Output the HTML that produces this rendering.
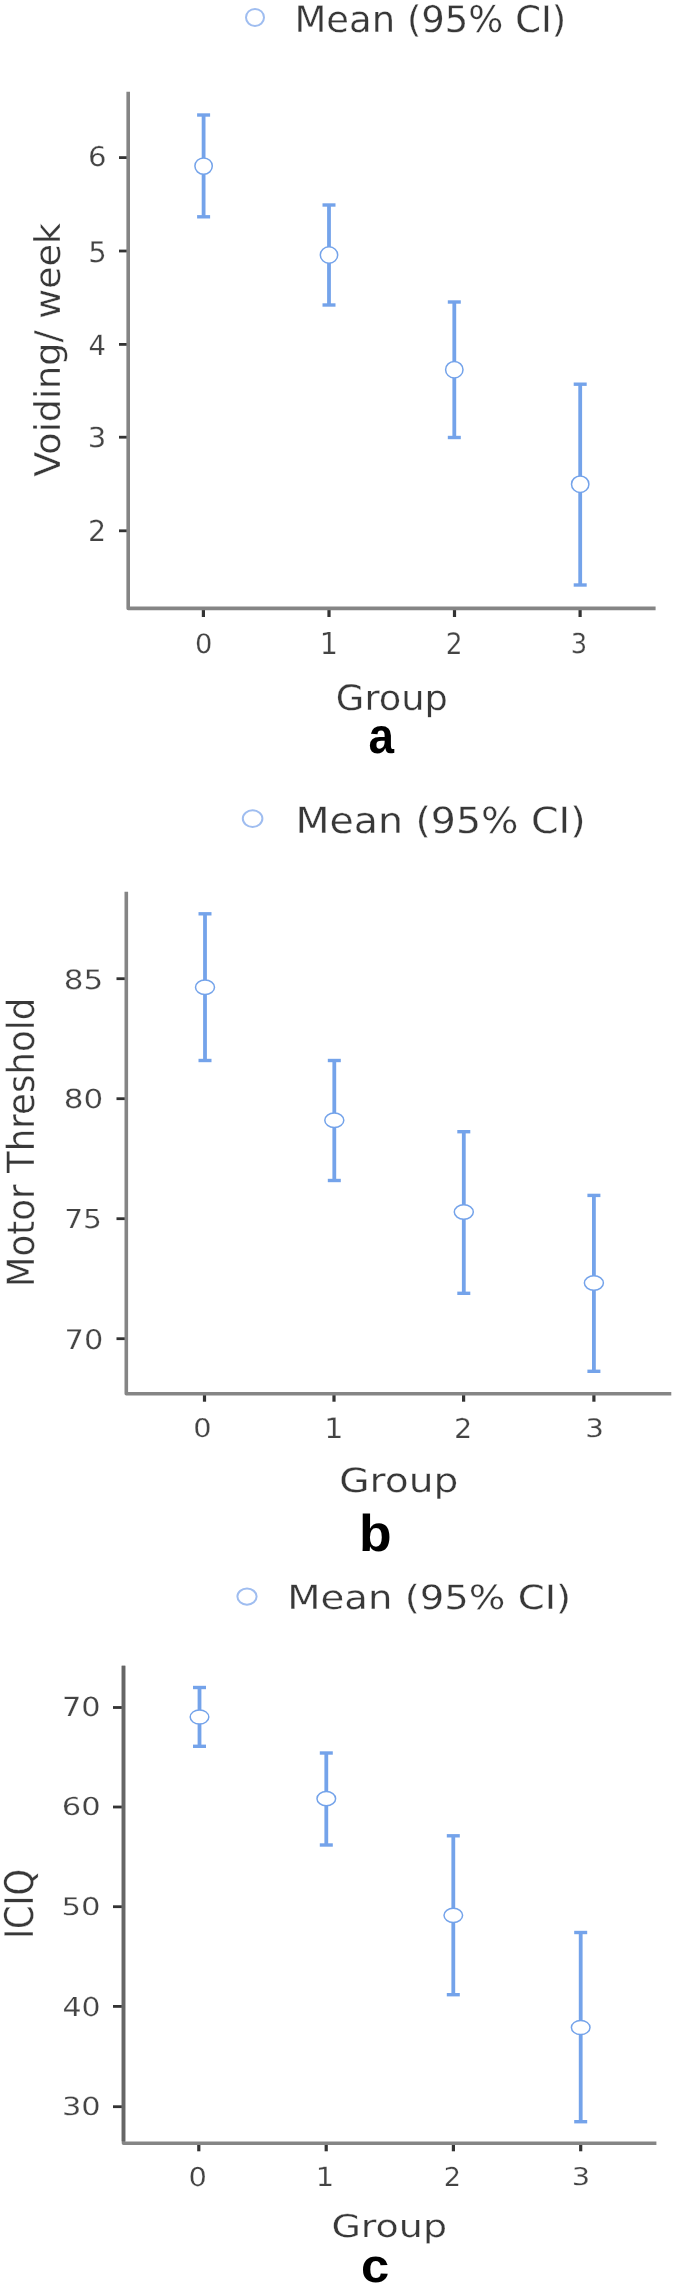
<!DOCTYPE html>
<html><head><meta charset="utf-8"><title>Figure</title>
<style>
html,body{margin:0;padding:0;background:#fff;}
body{width:678px;height:2287px;overflow:hidden;}
svg{display:block;filter:blur(0.75px);text-rendering:geometricPrecision;}
</style></head>
<body>
<svg width="678" height="2287" viewBox="0 0 678 2287">
<rect width="678" height="2287" fill="#fff"/>
<ellipse cx="255" cy="17.4" rx="9.0" ry="8.5" fill="#fff" stroke="#9fbdf0" stroke-width="2"/>
<line x1="119" y1="157.6" x2="128.2" y2="157.6" stroke="#333" stroke-width="2.8" stroke-linecap="butt"/>
<line x1="119" y1="251.0" x2="128.2" y2="251.0" stroke="#333" stroke-width="2.8" stroke-linecap="butt"/>
<line x1="119" y1="344.4" x2="128.2" y2="344.4" stroke="#333" stroke-width="2.8" stroke-linecap="butt"/>
<line x1="119" y1="437.2" x2="128.2" y2="437.2" stroke="#333" stroke-width="2.8" stroke-linecap="butt"/>
<line x1="119" y1="530.8" x2="128.2" y2="530.8" stroke="#333" stroke-width="2.8" stroke-linecap="butt"/>
<line x1="203.4" y1="608.4" x2="203.4" y2="617" stroke="#333" stroke-width="3.2" stroke-linecap="butt"/>
<line x1="329.0" y1="608.4" x2="329.0" y2="617" stroke="#333" stroke-width="3.2" stroke-linecap="butt"/>
<line x1="454.5" y1="608.4" x2="454.5" y2="617" stroke="#333" stroke-width="3.2" stroke-linecap="butt"/>
<line x1="580.1" y1="608.4" x2="580.1" y2="617" stroke="#333" stroke-width="3.2" stroke-linecap="butt"/>
<path d="M128.2,91.7 L128.2,608.4 L655.6,608.4" fill="none" stroke="#858585" stroke-width="3.6" stroke-linejoin="round"/>
<line x1="203.6" y1="115" x2="203.6" y2="216.8" stroke="#74A3EA" stroke-width="3.8" stroke-linecap="butt"/>
<line x1="197.1" y1="115" x2="210.1" y2="115" stroke="#74A3EA" stroke-width="3.4" stroke-linecap="butt"/>
<line x1="197.1" y1="216.8" x2="210.1" y2="216.8" stroke="#74A3EA" stroke-width="3.4" stroke-linecap="butt"/>
<ellipse cx="203.6" cy="166.1" rx="8.7" ry="8.2" fill="#fff" stroke="#74A3EA" stroke-width="1.5"/>
<line x1="329" y1="205" x2="329" y2="305" stroke="#74A3EA" stroke-width="3.8" stroke-linecap="butt"/>
<line x1="322.5" y1="205" x2="335.5" y2="205" stroke="#74A3EA" stroke-width="3.4" stroke-linecap="butt"/>
<line x1="322.5" y1="305" x2="335.5" y2="305" stroke="#74A3EA" stroke-width="3.4" stroke-linecap="butt"/>
<ellipse cx="329" cy="255" rx="8.7" ry="8.2" fill="#fff" stroke="#74A3EA" stroke-width="1.5"/>
<line x1="454.3" y1="302" x2="454.3" y2="437.5" stroke="#74A3EA" stroke-width="3.8" stroke-linecap="butt"/>
<line x1="447.8" y1="302" x2="460.8" y2="302" stroke="#74A3EA" stroke-width="3.4" stroke-linecap="butt"/>
<line x1="447.8" y1="437.5" x2="460.8" y2="437.5" stroke="#74A3EA" stroke-width="3.4" stroke-linecap="butt"/>
<ellipse cx="454.3" cy="369.7" rx="8.7" ry="8.2" fill="#fff" stroke="#74A3EA" stroke-width="1.5"/>
<line x1="580.2" y1="384.2" x2="580.2" y2="585" stroke="#74A3EA" stroke-width="3.8" stroke-linecap="butt"/>
<line x1="573.7" y1="384.2" x2="586.7" y2="384.2" stroke="#74A3EA" stroke-width="3.4" stroke-linecap="butt"/>
<line x1="573.7" y1="585" x2="586.7" y2="585" stroke="#74A3EA" stroke-width="3.4" stroke-linecap="butt"/>
<ellipse cx="580.2" cy="484.2" rx="8.7" ry="8.2" fill="#fff" stroke="#74A3EA" stroke-width="1.5"/>
<ellipse cx="252.6" cy="818.6" rx="9.8" ry="8.3" fill="#fff" stroke="#9fbdf0" stroke-width="2"/>
<line x1="116.5" y1="978.7" x2="126.3" y2="978.7" stroke="#333" stroke-width="2.8" stroke-linecap="butt"/>
<line x1="116.5" y1="1098.7" x2="126.3" y2="1098.7" stroke="#333" stroke-width="2.8" stroke-linecap="butt"/>
<line x1="116.5" y1="1218.7" x2="126.3" y2="1218.7" stroke="#333" stroke-width="2.8" stroke-linecap="butt"/>
<line x1="116.5" y1="1338.7" x2="126.3" y2="1338.7" stroke="#333" stroke-width="2.8" stroke-linecap="butt"/>
<line x1="204.5" y1="1393.7" x2="204.5" y2="1401.7" stroke="#333" stroke-width="3.2" stroke-linecap="butt"/>
<line x1="334.0" y1="1393.7" x2="334.0" y2="1401.7" stroke="#333" stroke-width="3.2" stroke-linecap="butt"/>
<line x1="463.6" y1="1393.7" x2="463.6" y2="1401.7" stroke="#333" stroke-width="3.2" stroke-linecap="butt"/>
<line x1="593.9" y1="1393.7" x2="593.9" y2="1401.7" stroke="#333" stroke-width="3.2" stroke-linecap="butt"/>
<path d="M126.3,891.7 L126.3,1393.7 L671.3,1393.7" fill="none" stroke="#858585" stroke-width="3.6" stroke-linejoin="round"/>
<line x1="205.0" y1="913.8" x2="205.0" y2="1060.5" stroke="#74A3EA" stroke-width="3.8" stroke-linecap="butt"/>
<line x1="198.5" y1="913.8" x2="211.5" y2="913.8" stroke="#74A3EA" stroke-width="3.4" stroke-linecap="butt"/>
<line x1="198.5" y1="1060.5" x2="211.5" y2="1060.5" stroke="#74A3EA" stroke-width="3.4" stroke-linecap="butt"/>
<ellipse cx="205.0" cy="987.2" rx="9.5" ry="7.3" fill="#fff" stroke="#74A3EA" stroke-width="1.5"/>
<line x1="334.3" y1="1060.5" x2="334.3" y2="1180.5" stroke="#74A3EA" stroke-width="3.8" stroke-linecap="butt"/>
<line x1="327.8" y1="1060.5" x2="340.8" y2="1060.5" stroke="#74A3EA" stroke-width="3.4" stroke-linecap="butt"/>
<line x1="327.8" y1="1180.5" x2="340.8" y2="1180.5" stroke="#74A3EA" stroke-width="3.4" stroke-linecap="butt"/>
<ellipse cx="334.3" cy="1120.3" rx="9.5" ry="7.3" fill="#fff" stroke="#74A3EA" stroke-width="1.5"/>
<line x1="463.8" y1="1131.7" x2="463.8" y2="1293.3" stroke="#74A3EA" stroke-width="3.8" stroke-linecap="butt"/>
<line x1="457.3" y1="1131.7" x2="470.3" y2="1131.7" stroke="#74A3EA" stroke-width="3.4" stroke-linecap="butt"/>
<line x1="457.3" y1="1293.3" x2="470.3" y2="1293.3" stroke="#74A3EA" stroke-width="3.4" stroke-linecap="butt"/>
<ellipse cx="463.8" cy="1212" rx="9.5" ry="7.3" fill="#fff" stroke="#74A3EA" stroke-width="1.5"/>
<line x1="593.9" y1="1195.4" x2="593.9" y2="1371.3" stroke="#74A3EA" stroke-width="3.8" stroke-linecap="butt"/>
<line x1="587.4" y1="1195.4" x2="600.4" y2="1195.4" stroke="#74A3EA" stroke-width="3.4" stroke-linecap="butt"/>
<line x1="587.4" y1="1371.3" x2="600.4" y2="1371.3" stroke="#74A3EA" stroke-width="3.4" stroke-linecap="butt"/>
<ellipse cx="593.9" cy="1283" rx="9.5" ry="7.3" fill="#fff" stroke="#74A3EA" stroke-width="1.5"/>
<ellipse cx="247" cy="1596.6" rx="9.6" ry="8.1" fill="#fff" stroke="#9fbdf0" stroke-width="2"/>
<line x1="113" y1="1707.5" x2="123.5" y2="1707.5" stroke="#333" stroke-width="2.8" stroke-linecap="butt"/>
<line x1="113" y1="1807.0" x2="123.5" y2="1807.0" stroke="#333" stroke-width="2.8" stroke-linecap="butt"/>
<line x1="113" y1="1906.7" x2="123.5" y2="1906.7" stroke="#333" stroke-width="2.8" stroke-linecap="butt"/>
<line x1="113" y1="2006.4" x2="123.5" y2="2006.4" stroke="#333" stroke-width="2.8" stroke-linecap="butt"/>
<line x1="113" y1="2106.7" x2="123.5" y2="2106.7" stroke="#333" stroke-width="2.8" stroke-linecap="butt"/>
<line x1="198.8" y1="2143.3" x2="198.8" y2="2151.3" stroke="#333" stroke-width="3.2" stroke-linecap="butt"/>
<line x1="326.2" y1="2143.3" x2="326.2" y2="2151.3" stroke="#333" stroke-width="3.2" stroke-linecap="butt"/>
<line x1="453.4" y1="2143.3" x2="453.4" y2="2151.3" stroke="#333" stroke-width="3.2" stroke-linecap="butt"/>
<line x1="580.7" y1="2143.3" x2="580.7" y2="2151.3" stroke="#333" stroke-width="3.2" stroke-linecap="butt"/>
<path d="M123.5,1665.8 L123.5,2143.3 L656.4,2143.3" fill="none" stroke="#858585" stroke-width="3.6" stroke-linejoin="round"/>
<line x1="123.5" y1="1665.8" x2="123.5" y2="2141.3" stroke="#666" stroke-width="3.6"/>
<line x1="199.5" y1="1687.5" x2="199.5" y2="1746.3" stroke="#74A3EA" stroke-width="3.8" stroke-linecap="butt"/>
<line x1="193.0" y1="1687.5" x2="206.0" y2="1687.5" stroke="#74A3EA" stroke-width="3.4" stroke-linecap="butt"/>
<line x1="193.0" y1="1746.3" x2="206.0" y2="1746.3" stroke="#74A3EA" stroke-width="3.4" stroke-linecap="butt"/>
<ellipse cx="199.5" cy="1717" rx="9.3" ry="7.1" fill="#fff" stroke="#74A3EA" stroke-width="1.5"/>
<line x1="326.3" y1="1753" x2="326.3" y2="1845" stroke="#74A3EA" stroke-width="3.8" stroke-linecap="butt"/>
<line x1="319.8" y1="1753" x2="332.8" y2="1753" stroke="#74A3EA" stroke-width="3.4" stroke-linecap="butt"/>
<line x1="319.8" y1="1845" x2="332.8" y2="1845" stroke="#74A3EA" stroke-width="3.4" stroke-linecap="butt"/>
<ellipse cx="326.3" cy="1798.7" rx="9.3" ry="7.1" fill="#fff" stroke="#74A3EA" stroke-width="1.5"/>
<line x1="453.3" y1="1835.8" x2="453.3" y2="1994.7" stroke="#74A3EA" stroke-width="3.8" stroke-linecap="butt"/>
<line x1="446.8" y1="1835.8" x2="459.8" y2="1835.8" stroke="#74A3EA" stroke-width="3.4" stroke-linecap="butt"/>
<line x1="446.8" y1="1994.7" x2="459.8" y2="1994.7" stroke="#74A3EA" stroke-width="3.4" stroke-linecap="butt"/>
<ellipse cx="453.3" cy="1915.3" rx="9.3" ry="7.1" fill="#fff" stroke="#74A3EA" stroke-width="1.5"/>
<line x1="580.7" y1="1932.5" x2="580.7" y2="2121.7" stroke="#74A3EA" stroke-width="3.8" stroke-linecap="butt"/>
<line x1="574.2" y1="1932.5" x2="587.2" y2="1932.5" stroke="#74A3EA" stroke-width="3.4" stroke-linecap="butt"/>
<line x1="574.2" y1="2121.7" x2="587.2" y2="2121.7" stroke="#74A3EA" stroke-width="3.4" stroke-linecap="butt"/>
<ellipse cx="580.7" cy="2027.5" rx="9.3" ry="7.1" fill="#fff" stroke="#74A3EA" stroke-width="1.5"/>
<text transform="translate(294.49,31.61) scale(0.3694,0.3675)" font-family="'DejaVu Sans', sans-serif" font-weight="normal" font-size="100" fill="#383838" stroke="#fff" stroke-width="0.8" stroke-linejoin="round" vector-effect="non-scaling-stroke">Mean (95% CI)</text>
<text transform="translate(59.85,476.77) rotate(-90) scale(0.3648,0.3553)" font-family="'DejaVu Sans', sans-serif" font-weight="normal" font-size="100" fill="#383838" stroke="#fff" stroke-width="0.8" stroke-linejoin="round" vector-effect="non-scaling-stroke">Voiding/ week</text>
<text transform="translate(88.03,166.30) scale(0.2909,0.2719)" font-family="'DejaVu Sans', sans-serif" font-weight="normal" font-size="100" fill="#444" stroke="#fff" stroke-width="0.8" stroke-linejoin="round" vector-effect="non-scaling-stroke">6</text>
<text transform="translate(88.18,261.55) scale(0.2907,0.2830)" font-family="'DejaVu Sans', sans-serif" font-weight="normal" font-size="100" fill="#444" stroke="#fff" stroke-width="0.8" stroke-linejoin="round" vector-effect="non-scaling-stroke">5</text>
<text transform="translate(88.38,355.20) scale(0.2744,0.2778)" font-family="'DejaVu Sans', sans-serif" font-weight="normal" font-size="100" fill="#444" stroke="#fff" stroke-width="0.8" stroke-linejoin="round" vector-effect="non-scaling-stroke">4</text>
<text transform="translate(87.80,446.62) scale(0.2910,0.2748)" font-family="'DejaVu Sans', sans-serif" font-weight="normal" font-size="100" fill="#444" stroke="#fff" stroke-width="0.8" stroke-linejoin="round" vector-effect="non-scaling-stroke">3</text>
<text transform="translate(88.06,541.10) scale(0.2845,0.2894)" font-family="'DejaVu Sans', sans-serif" font-weight="normal" font-size="100" fill="#444" stroke="#fff" stroke-width="0.8" stroke-linejoin="round" vector-effect="non-scaling-stroke">2</text>
<text transform="translate(194.92,653.12) scale(0.2732,0.2667)" font-family="'DejaVu Sans', sans-serif" font-weight="normal" font-size="100" fill="#444" stroke="#fff" stroke-width="0.8" stroke-linejoin="round" vector-effect="non-scaling-stroke">0</text>
<text transform="translate(319.64,653.69) scale(0.2858,0.3034)" font-family="'DejaVu Sans', sans-serif" font-weight="normal" font-size="100" fill="#444" stroke="#fff" stroke-width="0.8" stroke-linejoin="round" vector-effect="non-scaling-stroke">1</text>
<text transform="translate(445.75,653.76) scale(0.2648,0.2955)" font-family="'DejaVu Sans', sans-serif" font-weight="normal" font-size="100" fill="#444" stroke="#fff" stroke-width="0.8" stroke-linejoin="round" vector-effect="non-scaling-stroke">2</text>
<text transform="translate(570.67,653.14) scale(0.2575,0.2748)" font-family="'DejaVu Sans', sans-serif" font-weight="normal" font-size="100" fill="#444" stroke="#fff" stroke-width="0.8" stroke-linejoin="round" vector-effect="non-scaling-stroke">3</text>
<text transform="translate(335.86,710.07) scale(0.3681,0.3500)" font-family="'DejaVu Sans', sans-serif" font-weight="normal" font-size="100" fill="#383838" stroke="#fff" stroke-width="0.8" stroke-linejoin="round" vector-effect="non-scaling-stroke">Group</text>
<text transform="translate(368.40,752.50) scale(0.4585,0.5015)" font-family="'Liberation Sans', sans-serif" font-weight="bold" font-size="100" fill="#000">a</text>
<text transform="translate(295.45,832.67) scale(0.3944,0.3610)" font-family="'DejaVu Sans', sans-serif" font-weight="normal" font-size="100" fill="#383838" stroke="#fff" stroke-width="0.8" stroke-linejoin="round" vector-effect="non-scaling-stroke">Mean (95% CI)</text>
<text transform="translate(33.64,1287.26) rotate(-90) scale(0.3559,0.3747)" font-family="'DejaVu Sans', sans-serif" font-weight="normal" font-size="100" fill="#383838" stroke="#fff" stroke-width="0.8" stroke-linejoin="round" vector-effect="non-scaling-stroke">Motor Threshold</text>
<text transform="translate(63.86,988.58) scale(0.3105,0.2667)" font-family="'DejaVu Sans', sans-serif" font-weight="normal" font-size="100" fill="#444" stroke="#fff" stroke-width="0.8" stroke-linejoin="round" vector-effect="non-scaling-stroke">85</text>
<text transform="translate(63.83,1107.51) scale(0.3103,0.2640)" font-family="'DejaVu Sans', sans-serif" font-weight="normal" font-size="100" fill="#444" stroke="#fff" stroke-width="0.8" stroke-linejoin="round" vector-effect="non-scaling-stroke">80</text>
<text transform="translate(64.21,1227.71) scale(0.2970,0.2621)" font-family="'DejaVu Sans', sans-serif" font-weight="normal" font-size="100" fill="#444" stroke="#fff" stroke-width="0.8" stroke-linejoin="round" vector-effect="non-scaling-stroke">75</text>
<text transform="translate(64.57,1348.50) scale(0.3036,0.2692)" font-family="'DejaVu Sans', sans-serif" font-weight="normal" font-size="100" fill="#444" stroke="#fff" stroke-width="0.8" stroke-linejoin="round" vector-effect="non-scaling-stroke">70</text>
<text transform="translate(193.24,1437.13) scale(0.2885,0.2570)" font-family="'DejaVu Sans', sans-serif" font-weight="normal" font-size="100" fill="#444" stroke="#fff" stroke-width="0.8" stroke-linejoin="round" vector-effect="non-scaling-stroke">0</text>
<text transform="translate(324.22,1437.93) scale(0.3015,0.2806)" font-family="'DejaVu Sans', sans-serif" font-weight="normal" font-size="100" fill="#444" stroke="#fff" stroke-width="0.8" stroke-linejoin="round" vector-effect="non-scaling-stroke">1</text>
<text transform="translate(453.95,1437.61) scale(0.2859,0.2723)" font-family="'DejaVu Sans', sans-serif" font-weight="normal" font-size="100" fill="#444" stroke="#fff" stroke-width="0.8" stroke-linejoin="round" vector-effect="non-scaling-stroke">2</text>
<text transform="translate(585.19,1437.38) scale(0.2943,0.2552)" font-family="'DejaVu Sans', sans-serif" font-weight="normal" font-size="100" fill="#444" stroke="#fff" stroke-width="0.8" stroke-linejoin="round" vector-effect="non-scaling-stroke">3</text>
<text transform="translate(339.15,1492.21) scale(0.3919,0.3333)" font-family="'DejaVu Sans', sans-serif" font-weight="normal" font-size="100" fill="#383838" stroke="#fff" stroke-width="0.8" stroke-linejoin="round" vector-effect="non-scaling-stroke">Group</text>
<text transform="translate(359.08,1551.14) scale(0.5337,0.5172)" font-family="'Liberation Sans', sans-serif" font-weight="bold" font-size="100" fill="#000">b</text>
<text transform="translate(287.24,1609.37) scale(0.3859,0.3343)" font-family="'DejaVu Sans', sans-serif" font-weight="normal" font-size="100" fill="#383838" stroke="#fff" stroke-width="0.8" stroke-linejoin="round" vector-effect="non-scaling-stroke">Mean (95% CI)</text>
<text transform="translate(32.75,1938.87) rotate(-90) scale(0.3371,0.3947)" font-family="'DejaVu Sans', sans-serif" font-weight="normal" font-size="100" fill="#383838" stroke="#fff" stroke-width="0.8" stroke-linejoin="round" vector-effect="non-scaling-stroke">ICIQ</text>
<text transform="translate(61.93,1716.19) scale(0.3041,0.2626)" font-family="'DejaVu Sans', sans-serif" font-weight="normal" font-size="100" fill="#444" stroke="#fff" stroke-width="0.8" stroke-linejoin="round" vector-effect="non-scaling-stroke">70</text>
<text transform="translate(61.79,1815.47) scale(0.3053,0.2469)" font-family="'DejaVu Sans', sans-serif" font-weight="normal" font-size="100" fill="#444" stroke="#fff" stroke-width="0.8" stroke-linejoin="round" vector-effect="non-scaling-stroke">60</text>
<text transform="translate(61.47,1915.32) scale(0.3080,0.2450)" font-family="'DejaVu Sans', sans-serif" font-weight="normal" font-size="100" fill="#444" stroke="#fff" stroke-width="0.8" stroke-linejoin="round" vector-effect="non-scaling-stroke">50</text>
<text transform="translate(62.43,2015.61) scale(0.2999,0.2614)" font-family="'DejaVu Sans', sans-serif" font-weight="normal" font-size="100" fill="#444" stroke="#fff" stroke-width="0.8" stroke-linejoin="round" vector-effect="non-scaling-stroke">40</text>
<text transform="translate(61.92,2115.25) scale(0.3043,0.2493)" font-family="'DejaVu Sans', sans-serif" font-weight="normal" font-size="100" fill="#444" stroke="#fff" stroke-width="0.8" stroke-linejoin="round" vector-effect="non-scaling-stroke">30</text>
<text transform="translate(188.54,2185.61) scale(0.2898,0.2599)" font-family="'DejaVu Sans', sans-serif" font-weight="normal" font-size="100" fill="#444" stroke="#fff" stroke-width="0.8" stroke-linejoin="round" vector-effect="non-scaling-stroke">0</text>
<text transform="translate(315.87,2186.26) scale(0.2894,0.2636)" font-family="'DejaVu Sans', sans-serif" font-weight="normal" font-size="100" fill="#444" stroke="#fff" stroke-width="0.8" stroke-linejoin="round" vector-effect="non-scaling-stroke">1</text>
<text transform="translate(443.83,2186.26) scale(0.2716,0.2600)" font-family="'DejaVu Sans', sans-serif" font-weight="normal" font-size="100" fill="#444" stroke="#fff" stroke-width="0.8" stroke-linejoin="round" vector-effect="non-scaling-stroke">2</text>
<text transform="translate(571.78,2185.07) scale(0.2895,0.2437)" font-family="'DejaVu Sans', sans-serif" font-weight="normal" font-size="100" fill="#444" stroke="#fff" stroke-width="0.8" stroke-linejoin="round" vector-effect="non-scaling-stroke">3</text>
<text transform="translate(331.41,2237.14) scale(0.3796,0.3125)" font-family="'DejaVu Sans', sans-serif" font-weight="normal" font-size="100" fill="#383838" stroke="#fff" stroke-width="0.8" stroke-linejoin="round" vector-effect="non-scaling-stroke">Group</text>
<text transform="translate(361.09,2282.03) scale(0.5081,0.4727)" font-family="'Liberation Sans', sans-serif" font-weight="bold" font-size="100" fill="#000">c</text>
</svg>
</body></html>
